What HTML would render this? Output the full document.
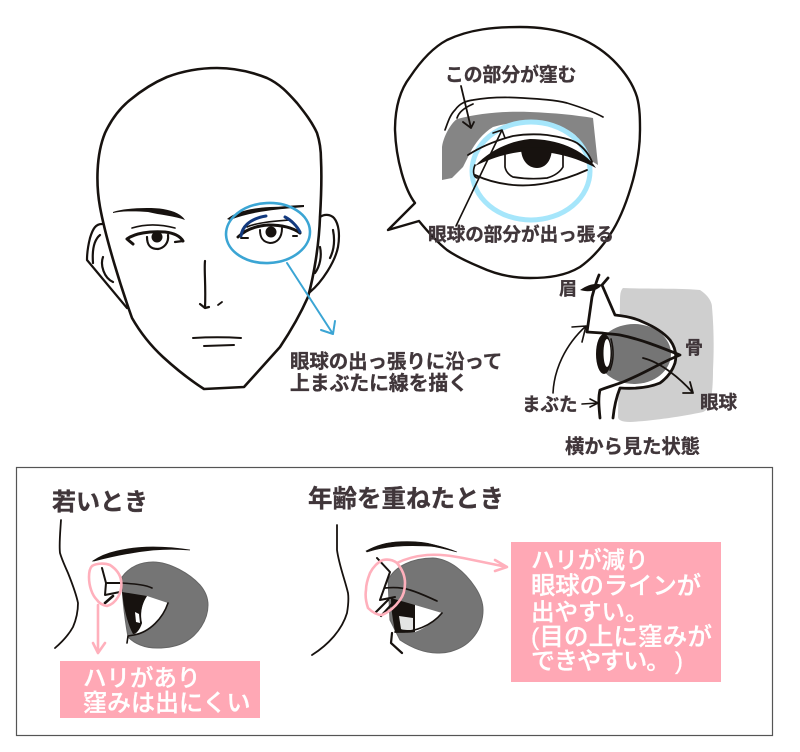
<!DOCTYPE html>
<html><head><meta charset="utf-8"><style>
html,body{margin:0;padding:0;background:#fff}
svg{display:block}
text{font-family:"Liberation Sans","Noto Sans CJK JP",sans-serif;font-weight:700;fill:#40363a;stroke:#40363a;stroke-width:.35}
.w{fill:#fff;stroke:#fff;stroke-width:.3;font-weight:500}
.k{fill:none;stroke:#17120f;stroke-linecap:round;stroke-linejoin:round}
</style></head><body>
<svg width="800" height="752" viewBox="0 0 800 752" xmlns="http://www.w3.org/2000/svg">
<!-- head -->
<path class="k" stroke-width="2.6" d="M132,318C122,290 106,240 100,207C96,185 96,155 105,133C112,118 120,108 130,100C142,90 153,83 167,77C183,71 200,68 217,68C235,68 252,72 267,78C280,84 288,93 297,103C305,113 312,122 317,133C320,142 321,150 321,160C322,180 321,200 320,217C319,245 314,275 308,297C300,315 290,332 280,347L244,387L204,389C190,380 175,368 163,357C150,345 140,332 132,318Z"/>
<!-- ears -->
<path class="k" stroke-width="2.2" d="M102,224C96,224 93,228 90,238C88,246 87,253 87,260L127,308M93,263C92,250 94,240 100,235M103,257C100,265 104,278 113,282"/>
<path class="k" stroke-width="2.2" d="M320,217C324,214 330,214 334,218C339,224 340,235 338,247C335,262 322,282 310,292M333,230C335,240 334,250 330,258M320,247C322,256 320,266 315,273"/>
<!-- left brow -->
<path d="M113,212C125,208 150,207 163,209C175,211 182,215 185,220C175,216 160,215 148,212C135,211 122,211 113,213Z" fill="#17120f"/>
<path class="k" stroke-width="1.6" d="M132,228C145,224 160,224 175,228"/>
<path class="k" stroke-width="3" d="M127,239C135,233 150,231 165,232C174,233 180,236 183,241M127,239L133,244"/>
<path class="k" stroke-width="2.2" d="M147,237C147,245 150,249 158,249C164,248 169,243 168,235M175,242L183,241"/>
<circle cx="157" cy="237" r="5.5" fill="#17120f"/>
<!-- right brow -->
<path d="M227,219C235,212 250,208 270,207C282,207 292,205 304,205L304,207C285,209 255,210 230,220Z" fill="#17120f"/>
<path class="k" stroke-width="3" d="M238,237C245,230 255,226 268,225C280,225 292,227 300,233"/>
<path class="k" stroke-width="1.6" d="M247,227C258,222 278,221 290,220"/>
<path class="k" stroke-width="2" d="M260,230C260,238 263,242 270,243C277,243 282,238 282,228M241,238L248,238M293,236L297,236"/>
<circle cx="271" cy="232" r="5.5" fill="#17120f"/>
<path fill="none" stroke="#12397e" stroke-linecap="round" stroke-width="3" d="M241,236C242,228 248,219 266,216M285,217C291,220 297,226 300,232"/>
<!-- nose, mouth -->
<path class="k" stroke-width="2.2" d="M205,261C204,270 206,285 205,308L200,304M205,308L209,307"/>
<path class="k" stroke-width="1.8" d="M218,305L222,302"/>
<path class="k" stroke-width="2" d="M193,338C210,337 225,337 241,338"/>
<path class="k" stroke-width="2" d="M204,346L234,345"/>
<!-- blue ellipse -->
<ellipse cx="268" cy="233" rx="42" ry="30" fill="none" stroke="#3ba5d4" stroke-width="2.6" transform="rotate(-3 268 233)"/>
<path d="M287,263L333,334M333,334L321,330M333,334L335,321" fill="none" stroke="#3ba5d4" stroke-width="2" stroke-linecap="round"/>
<text x="290" y="368" font-size="19.4">眼球の出っ張りに沿って</text>
<text x="290" y="390" font-size="19.8">上まぶたに線を描く</text>
<!-- bubble -->
<path class="k" style="fill:#fff" stroke-width="2.4" d="M415,203C405,190 396,160 395,130C395,108 400,90 410,77C420,62 432,48 447,40C470,29 495,27 520,27C560,27 590,38 613,60C625,72 633,84 637,97C640,108 640,120 640,130C640,148 637,165 633,180C628,198 622,215 613,230C604,245 594,257 580,267C565,276 548,278 530,278C512,278 495,274 480,267C468,262 457,257 447,250C437,242 428,232 419,221L388,230Z"/>
<!-- gray area -->
<path fill="#858585" d="M457,119C480,113 505,111 530,112C555,113 575,115 593,118L598,165L590,160L577,137C570,128 548,122 530,122C515,122 503,124 493,127C483,133 475,143 470,153L463,167L452,178L442,180L442,147C443,138 450,124 457,119Z"/>
<!-- blue ring -->
<ellipse cx="531" cy="171" rx="59" ry="49" fill="none" stroke="#a6e6fb" stroke-width="5"/>
<!-- eye -->
<path class="k" stroke-width="1.7" d="M445,130C448,122 450,115 455,110C460,103 466,101 473,100C490,97 508,97 523,98C540,99 555,100 567,103C580,107 592,111 603,117M457,118C459,112 464,108 473,104"/>
<path d="M475,166C490,150 510,141 530,139C556,139 584,149 596,168C576,157 550,151 530,151C510,152 492,158 475,166Z" fill="#17120f"/>
<path class="k" stroke-width="1.8" d="M468,155C482,146 498,140 513,136C525,134 537,134 547,135C560,137 570,139 577,143C584,148 589,154 592,162"/>
<path class="k" stroke-width="1.8" d="M475,175C490,182 502,184 513,185C525,186 537,185 547,183C562,180 576,175 587,170"/>
<path class="k" stroke-width="1.7" d="M505,155L505,167C506,172 509,175 513,177C525,179 537,179 547,178C554,176 560,172 563,167L563,150"/>
<path d="M521,148C521,160 528,168 537,168C546,168 552,160 552,147Z" fill="#17120f"/>
<path class="k" stroke-width="1.6" d="M475,165C472,172 474,178 478,178"/>
<!-- bubble leaders -->
<path class="k" stroke-width="1.8" d="M461,86L471,128M471,128L463,122M471,128L474,122"/>
<path class="k" stroke-width="1.6" d="M456,226L502,130L493,133M502,130L505,138"/>
<text x="445" y="81" font-size="18.8">この部分が窪む</text>
<text x="428" y="241" font-size="18.6">眼球の部分が出っ張る</text>
<!-- side view -->
<path fill="#cfcfcf" d="M623,288C650,289 680,288 700,290C708,295 712,302 712,307C714,330 714,350 713,370C713,385 712,395 710,403C708,408 706,411 703,412C680,417 650,421 630,422C622,422 618,420 618,417L620,300C620,293 621,290 623,288Z"/>
<path fill="#fff" d="M587,332L615,315C630,316 643,322 650,326C660,331 667,336 670,340C675,348 677,355 675,363C672,372 667,378 660,383C648,388 635,389 620,388L600,392C588,380 585,350 587,332Z"/>
<ellipse cx="634" cy="354" rx="37" ry="30" fill="#757575"/>
<ellipse cx="604" cy="354" rx="8" ry="20" fill="#17120f"/>
<ellipse cx="607" cy="353" rx="3.5" ry="14" fill="#fff"/>
<path class="k" stroke-width="1.6" d="M611,339C614,350 614,360 610,370"/>
<path class="k" stroke-width="2.8" d="M599,275C596,282 594,290 592,297L587,332L602,333C608,334 614,334 620,335C640,339 660,347 680,355C662,362 643,374 623,382C615,385 608,387 600,390C598,398 599,408 600,418"/>
<path class="k" stroke-width="2.8" d="M608,278L602,285L615,315C625,316 635,318 643,322C655,327 664,333 670,340C675,347 677,355 675,363C672,372 667,378 660,383C648,388 635,389 620,388C616,398 614,408 613,418"/>
<path d="M580,290C590,283 598,283 602,285C598,290 590,293 580,290Z" fill="#17120f"/>
<path class="k" stroke-width="1.8" d="M643,358C660,362 680,378 693,393L683,393M693,393L690,382"/>
<path class="k" stroke-width="1.6" d="M553,393C554,370 565,345 586,326L572,327M586,326L582,342"/>
<path class="k" stroke-width="1.6" d="M582,404L598,403L590,399M598,403L590,407"/>
<text x="559" y="295" font-size="18">眉</text>
<text x="685" y="354" font-size="18">骨</text>
<text x="700" y="409" font-size="18.5">眼球</text>
<text x="522" y="411" font-size="18.5">まぶた</text>
<text x="565" y="453" font-size="19.3">横から見た状態</text>
<!-- bottom box -->
<rect x="16.5" y="467.5" width="756" height="268" fill="none" stroke="#555" stroke-width="1.2"/>
<text x="52" y="510" font-size="24">若いとき</text>
<text x="308" y="507" font-size="24.5">年齢を重ねたとき</text>
<!-- young -->
<path class="k" stroke-width="1.8" d="M61,520C60,535 59,545 60,553C62,560 65,566 68,573C72,583 76,593 78,603C78,612 76,620 73,627C68,636 62,642 55,648"/>
<path d="M93,561C100,556 108,553 117,551C130,548 145,547 153,547C165,547 178,548 190,550C178,549 165,549 153,550C133,552 113,556 94,561Z" fill="#17120f" stroke="#17120f" stroke-width=".8"/>
<path fill="#757575" stroke="#666" stroke-width="1" d="M122,577C130,566 142,562 153,562C170,562 190,574 200,585C206,592 208,598 208,605C208,620 198,635 185,642C176,647 166,648 157,648C145,648 135,644 128,637C125,620 122,600 122,577Z"/>
<path d="M147,596L168,603C163,618 152,630 134,635C138,632 140,628 142,623C140,615 141,605 147,596Z" fill="#fff"/>
<path d="M122,592L147,596C141,605 140,615 142,623C140,630 136,634 133,634C128,625 124,610 122,592Z" fill="#17120f"/>
<path d="M135,612L139,614L140,623L136,622Z" fill="#fff"/>
<path class="k" stroke-width="1.6" d="M122,583C136,584 146,585 152,588M168,603C163,618 150,632 134,635L128,636L127,643"/>
<path class="k" stroke-width="2" d="M102,568L106,583L105,595L120,592M106,583L120,583"/>
<path class="k" stroke-width="2.6" d="M105,603L113,596"/>
<path fill="none" stroke="#ffb0bc" stroke-width="2.6" stroke-linecap="round" d="M89,577C89,572 90,568 92,566C97,563 105,563 110,565C116,569 120,574 121,580C122,586 121,592 118,597C115,602 111,605 107,606C102,605 99,603 97,600C92,595 89,586 89,577ZM98,605L98,653L93,643M98,653L105,643"/>
<rect x="60" y="661" width="200" height="57" fill="#ffa8b5"/>
<text class="w" x="83" y="686" font-size="23.5">ハリがあり</text>
<text class="w" x="83" y="711" font-size="24">窪みは出にくい</text>
<!-- old -->
<path class="k" stroke-width="1.8" d="M337,525C337,535 337,543 337,550C339,565 345,580 348,593C349,600 348,607 347,613C342,630 328,645 312,655"/>
<path d="M366,551C375,546 385,543 395,542C410,541 425,542 435,545C443,547 450,549 457,552C445,549 435,546 425,546C405,545 385,546 367,552Z" fill="#17120f" stroke="#17120f" stroke-width=".6"/>
<path fill="#757575" stroke="#666" stroke-width="1" d="M388,580C395,566 413,558 433,558C450,559 465,572 475,587C481,596 483,603 483,610C483,630 470,645 455,650C448,653 442,653 437,653C425,653 412,648 400,640L390,620Z"/>
<path d="M391,598L415,605L415,632C408,633 402,633 395,632C393,620 391,610 391,598Z" fill="#17120f"/>
<path d="M399,616L413,618L413,630C407,630 403,630 401,629Z" fill="#e4e4e4"/>
<path d="M415,605L442,613C436,620 426,628 415,632Z" fill="#fff"/>
<path class="k" stroke-width="1.7" d="M442,613C432,625 415,633 395,632M385,588C395,587 404,588 410,590C420,593 428,597 437,601"/>
<path class="k" stroke-width="2" d="M377,558L390,572L380,600L395,597"/>
<path class="k" stroke-width="2.2" d="M376,612L388,600M381,616L392,604M392,633L391,643L402,653"/>
<path fill="none" stroke="#ffb0bc" stroke-width="2.6" stroke-linecap="round" d="M370,573C373,567 378,562 383,560C388,559 393,560 397,563C402,569 405,576 405,583C405,590 403,596 400,600C395,607 389,612 382,615C377,615 372,612 368,608C366,602 365,596 366,590C366,584 368,578 370,573ZM397,563C405,559 416,556 427,555C440,554 452,556 463,558L507,567L495,560M507,567L495,571"/>
<rect x="511" y="542" width="210" height="140" fill="#ffa8b5"/>
<text class="w" x="531" y="568" font-size="23.5">ハリが減り</text>
<text class="w" x="531" y="594" font-size="24.3">眼球のラインが</text>
<text class="w" x="531" y="620" font-size="23.5">出やすい。</text>
<text class="w" x="531" y="645" font-size="24.5" textLength="181" lengthAdjust="spacing">(目の上に窪みが</text>
<text class="w" x="531" y="669" font-size="24" textLength="152" lengthAdjust="spacing">できやすい。 )</text>
</svg>
</body></html>
